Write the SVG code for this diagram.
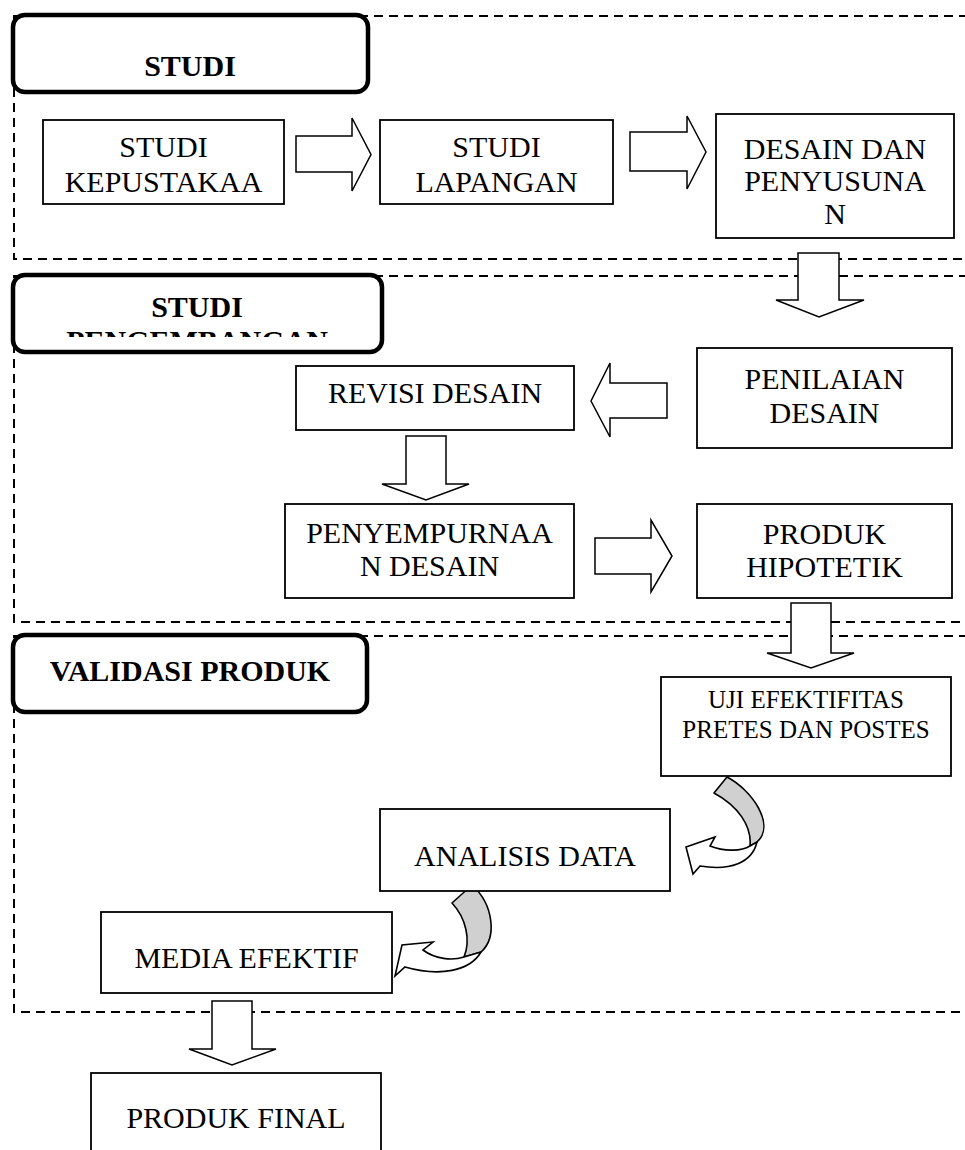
<svg xmlns="http://www.w3.org/2000/svg" width="965" height="1150" viewBox="0 0 965 1150">
<style>
.frame{fill:none;stroke:#000;stroke-width:2;stroke-dasharray:9 6}
.lbl{fill:#fff;stroke:#000;stroke-width:4.5}
.box{fill:#fff;stroke:#000;stroke-width:1.8}
.arr{fill:#fff;stroke:#000;stroke-width:1.5;stroke-linejoin:miter}
.rib{fill:#d0d0d0;stroke:#000;stroke-width:1.6;stroke-linejoin:round}
.crv{fill:#fff;stroke:#000;stroke-width:1.6;stroke-linejoin:miter}
.t{font-family:"Liberation Serif","Times New Roman",serif;font-size:30px;fill:#000;text-anchor:middle}
.b{font-weight:bold}
.s{font-size:25px}
</style>
<defs>
<clipPath id="clip2"><rect x="15" y="277" width="365" height="60"/></clipPath>
</defs>
<rect width="965" height="1150" fill="#fff"/>

<g id="frames">
<rect class="frame" x="14" y="16" width="990" height="243"/>
<rect class="frame" x="14" y="276" width="990" height="346"/>
<rect class="frame" x="14" y="636" width="990" height="376"/>
</g>

<g id="label-studi">
<rect class="lbl" x="13" y="15" width="355" height="77" rx="12"/>
<text class="t b" x="190" y="76">STUDI</text>
</g>
<g id="label-pengembangan">
<rect class="lbl" x="13" y="275" width="369" height="77" rx="12"/>
<g clip-path="url(#clip2)">
<text class="t b" x="197" y="317">STUDI</text>
<text class="t b" x="197" y="351">PENGEMBANGAN</text>
</g>
</g>
<g id="label-validasi">
<rect class="lbl" x="13" y="635" width="354" height="77" rx="12"/>
<text class="t b" x="190" y="681">VALIDASI PRODUK</text>
</g>

<g id="connectors">
<path class="arr" d="M296,136 H352 V118 L371,154.5 L352,191 V172 H296 Z"/>
<path class="arr" d="M630,132 H687 V116 L706,152 L687,189 V171 H630 Z"/>
<path class="arr" d="M798,253 H839 V300 H864 L819,317 L776,300 H798 Z"/>
<path class="arr" d="M667,383 H610 V363 L591,401 L610,437 V418 H667 Z"/>
<path class="arr" d="M406,436 H446 V484 H469 L426,500 L382,484 H406 Z"/>
<path class="arr" d="M595,538 H651 V520 L672,556 L651,592 V574 H595 Z"/>
<path class="arr" d="M791,603 H831 V653 H854 L811,668 L767,653 H791 Z"/>
<path class="arr" d="M212,1001 H252 V1049 H276 L232,1065 L189,1049 H212 Z"/>
<path class="rib" d="M714,793 L727,777 C752,790 776,825 757,842 L750,846 C752,826 738,806 714,793 Z"/>
<path class="crv" d="M757,842 C752,863 730,871 700,866 L693,874 L686,847 L715,837 L710,846 C725,852 742,851 750,846 Z"/>
<path class="rib" d="M452,903 L472,885 C494,905 497,938 481,952 L464,957 C471,940 466,918 452,903 Z"/>
<path class="crv" d="M481,952 C470,971 440,977 405,967 L395,976 L402,945 L433,942 L423,950 C435,959 452,961 464,957 Z"/>
</g>

<g id="studi-kepustakaan">
<rect class="box" x="43" y="120" width="241" height="84"/>
<text class="t" x="163.5" y="157">STUDI</text>
<text class="t" x="163.5" y="192">KEPUSTAKAA</text>
</g>
<g id="studi-lapangan">
<rect class="box" x="380" y="120" width="233" height="84"/>
<text class="t" x="496.5" y="157">STUDI</text>
<text class="t" x="496.5" y="192">LAPANGAN</text>
</g>
<g id="desain-penyusunan">
<rect class="box" x="716" y="114" width="238" height="124"/>
<text class="t" x="835" y="159">DESAIN DAN</text>
<text class="t" x="835" y="191">PENYUSUNA</text>
<text class="t" x="835" y="224">N</text>
</g>
<g id="penilaian-desain">
<rect class="box" x="697" y="348" width="255" height="100"/>
<text class="t" x="824.5" y="389">PENILAIAN</text>
<text class="t" x="824.5" y="423">DESAIN</text>
</g>
<g id="revisi-desain">
<rect class="box" x="296" y="366" width="278" height="64"/>
<text class="t" x="435" y="403">REVISI DESAIN</text>
</g>
<g id="penyempurnaan-desain">
<rect class="box" x="285" y="504" width="289" height="94"/>
<text class="t" x="429.5" y="543">PENYEMPURNAA</text>
<text class="t" x="429.5" y="576">N DESAIN</text>
</g>
<g id="produk-hipotetik">
<rect class="box" x="697" y="504" width="255" height="94"/>
<text class="t" x="824.5" y="544">PRODUK</text>
<text class="t" x="824.5" y="577">HIPOTETIK</text>
</g>
<g id="uji-efektifitas">
<rect class="box" x="661" y="677" width="290" height="99"/>
<text class="t s" x="806" y="708">UJI EFEKTIFITAS</text>
<text class="t s" x="806" y="738">PRETES DAN POSTES</text>
</g>
<g id="analisis-data">
<rect class="box" x="380" y="809" width="290" height="82"/>
<text class="t" x="525" y="866">ANALISIS DATA</text>
</g>
<g id="media-efektif">
<rect class="box" x="101" y="912" width="291" height="81"/>
<text class="t" x="246.5" y="968">MEDIA EFEKTIF</text>
</g>
<g id="produk-final">
<rect class="box" x="91" y="1073" width="290" height="90"/>
<text class="t" x="236" y="1128">PRODUK FINAL</text>
</g>
</svg>
